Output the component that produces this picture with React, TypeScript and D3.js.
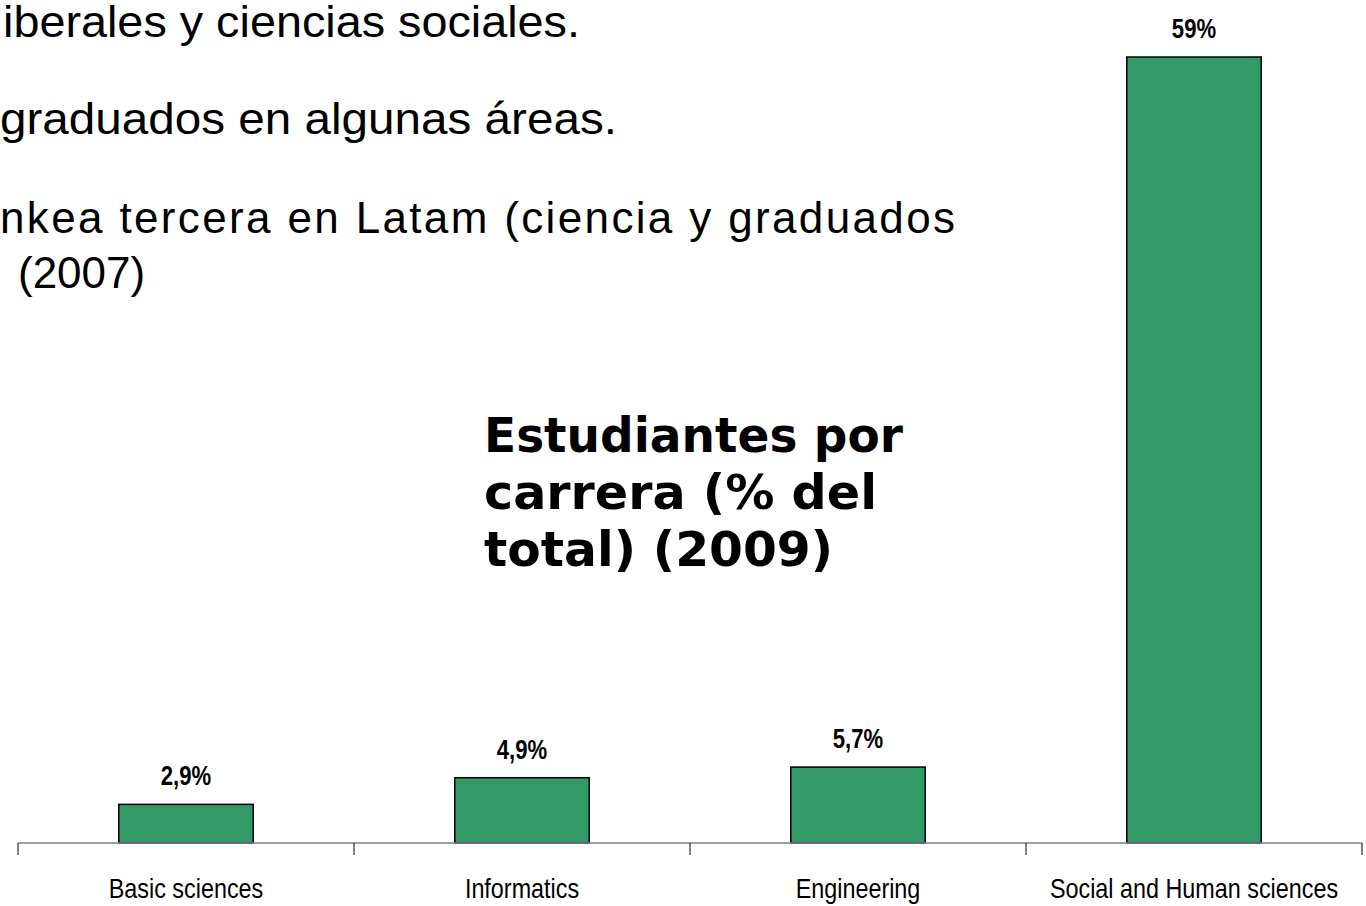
import React from "react";
import * as d3 from "d3";

const categories = ["Basic sciences", "Informatics", "Engineering", "Social and Human sciences"];
const values = [2.9, 4.9, 5.7, 59];
const valueLabels = ["2,9%", "4,9%", "5,7%", "59%"];
const titleLines = ["Estudiantes por", "carrera (% del", "total) (2009)"];
const bodyLines = [
  "iberales y ciencias sociales.",
  "graduados en algunas áreas.",
  "nkea tercera en Latam (ciencia y graduados",
  "(2007)",
];

const W = 1366;
const H = 906;
const SANS = "'Liberation Sans', Arial, Helvetica, sans-serif";
const CONDENSE = 0.82;

export default function App() {
  const x = d3
    .scaleBand<string>()
    .domain(categories)
    .range([18, 1362])
    .paddingInner(0.6)
    .paddingOuter(0.3);
  const y = d3.scaleLinear().domain([0, 59]).range([843, 57]);
  const step = x.step();
  const tickXs = [...categories.map((_, i) => x.range()[0] + i * step), x.range()[1]];

  const bodyY = [37, 134, 233, 288];
  const bodyX = [3, 0, 0, 18];
  const bodyLen: (number | undefined)[] = [580, 617, 955, undefined];
  const bodyAdjust = ["spacingAndGlyphs", "spacingAndGlyphs", "spacing", undefined];

  const titleX = 484;
  const titleEnd = [903, 877, 833];

  return (
    <svg
      width={W}
      height={H}
      style={{ position: "absolute", left: 0, top: 0, display: "block", background: "#fff" }}
    >
      {bodyLines.map((t, i) => (
        <text
          key={"b" + i}
          x={bodyX[i]}
          y={bodyY[i]}
          fontFamily={SANS}
          fontSize={44}
          fill="#000"
          {...(bodyLen[i] ? { textLength: bodyLen[i]! - bodyX[i], lengthAdjust: bodyAdjust[i] } : {})}
        >
          {t}
        </text>
      ))}

      {titleLines.map((t, i) => (
        <text
          key={"t" + i}
          x={titleX}
          y={452 + i * 57}
          fontFamily="'DejaVu Sans', Verdana, sans-serif"
          fontWeight="bold"
          fontSize={47.4}
          fill="#000"
          textLength={titleEnd[i] - titleX}
          lengthAdjust="spacingAndGlyphs"
        >
          {t}
        </text>
      ))}

      {categories.map((c, i) => (
        <rect
          key={"r" + i}
          x={x(c)}
          y={y(values[i])}
          width={x.bandwidth()}
          height={y(0) - y(values[i])}
          fill="#339966"
          stroke="#000"
          strokeWidth={1.5}
        />
      ))}

      <line x1={x.range()[0]} x2={x.range()[1]} y1={y(0)} y2={y(0)} stroke="#808080" strokeWidth={1.5} />
      {tickXs.map((tx, i) => (
        <line key={"k" + i} x1={tx} x2={tx} y1={y(0)} y2={y(0) + 12} stroke="#000" strokeWidth={1} />
      ))}

      {categories.map((c, i) => (
        <g
          key={"v" + i}
          transform={`translate(${(x(c) as number) + x.bandwidth() / 2},${y(values[i]) - 19}) scale(${CONDENSE},1)`}
        >
          <text textAnchor="middle" fontFamily={SANS} fontWeight="bold" fontSize={27} fill="#000">
            {valueLabels[i]}
          </text>
        </g>
      ))}

      {categories.map((c, i) => (
        <g
          key={"c" + i}
          transform={`translate(${(x(c) as number) + x.bandwidth() / 2},898) scale(${CONDENSE},1)`}
        >
          <text textAnchor="middle" fontFamily={SANS} fontSize={28.5} fill="#000">
            {c}
          </text>
        </g>
      ))}
    </svg>
  );
}
